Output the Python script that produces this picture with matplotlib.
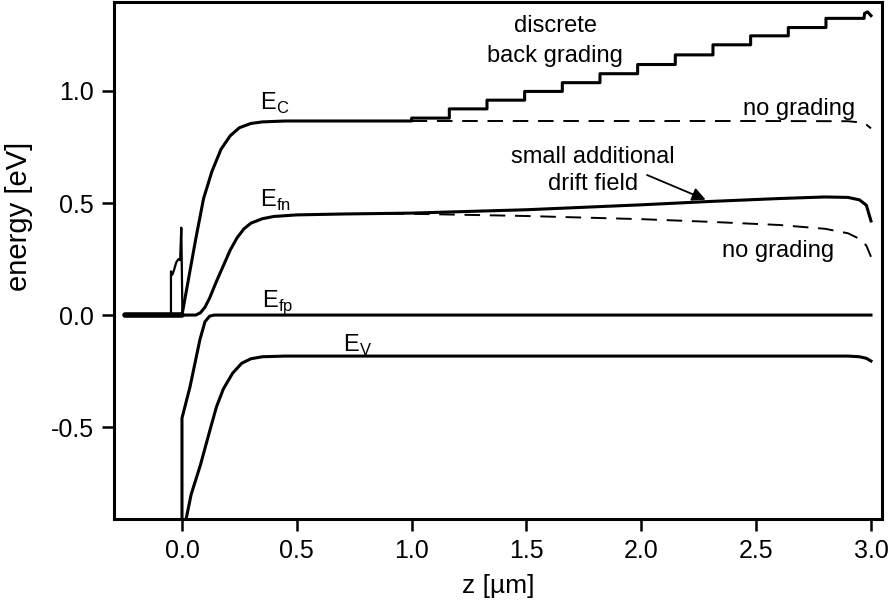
import matplotlib
matplotlib.use("Agg")
import matplotlib.pyplot as plt

plt.rcParams['font.family'] = ['Liberation Sans', 'DejaVu Sans']
plt.rcParams['mathtext.fontset'] = 'custom'
plt.rcParams['mathtext.rm'] = 'Liberation Sans'
plt.rcParams['axes.unicode_minus'] = False

# contact / window region near z = 0
window_z = [-0.25, -0.048, -0.048, -0.042, -0.035, -0.025, -0.015, -0.008, -0.003, 0.002, 0.01]
window_E = [0.0, 0.0, 0.195, 0.18, 0.2, 0.235, 0.25, 0.245, 0.39, 0.0, 0.0]

# conduction band, with discrete back grading
ec_z = [0.0, 0.03, 0.06, 0.094, 0.13, 0.17, 0.21, 0.25, 0.3, 0.35, 0.45, 1.0,
        1.0, 1.164, 1.164, 1.328, 1.328, 1.492, 1.492, 1.656, 1.656, 1.82, 1.82,
        1.984, 1.984, 2.148, 2.148, 2.312, 2.312, 2.476, 2.476, 2.64, 2.64,
        2.804, 2.804, 2.97, 2.972, 2.985, 3.0]
ec_E = [0.0, 0.17, 0.34, 0.52, 0.64, 0.74, 0.8, 0.836, 0.855, 0.862, 0.866, 0.866,
        0.879, 0.879, 0.92, 0.92, 0.959, 0.959, 0.998, 0.998, 1.037, 1.037, 1.077,
        1.077, 1.118, 1.118, 1.161, 1.161, 1.206, 1.206, 1.246, 1.246, 1.283,
        1.283, 1.324, 1.324, 1.346, 1.353, 1.336]

# conduction band without grading
ec0_z = [1.0, 1.5, 2.0, 2.5, 2.9, 2.95, 2.98, 3.0]
ec0_E = [0.866, 0.866, 0.866, 0.866, 0.865, 0.86, 0.85, 0.833]

# electron quasi-Fermi level, graded
efn_z = [0.0, 0.06, 0.08, 0.1, 0.12, 0.15, 0.18, 0.21, 0.24, 0.27, 0.3, 0.35, 0.4,
         0.5, 0.7, 1.0, 1.5, 2.0, 2.3, 2.6, 2.8, 2.9, 2.95, 2.98, 3.0]
efn_E = [0.0, 0.0, 0.01, 0.035, 0.075, 0.15, 0.22, 0.29, 0.345, 0.385, 0.41, 0.43, 0.44,
         0.447, 0.451, 0.455, 0.47, 0.492, 0.507, 0.52, 0.527, 0.525, 0.514, 0.49, 0.42]

# electron quasi-Fermi level without grading
efn0_z = [0.9, 1.0, 1.5, 2.0, 2.3, 2.6, 2.8, 2.9, 2.95, 2.98, 3.0]
efn0_E = [0.452, 0.452, 0.442, 0.428, 0.416, 0.402, 0.385, 0.365, 0.34, 0.31, 0.26]

# hole quasi-Fermi level
efp_z = [0.0, 0.0, 0.035, 0.078, 0.1, 0.12, 0.14, 3.0]
efp_E = [-0.95, -0.46, -0.32, -0.11, -0.03, -0.005, 0.0, 0.0]

# valence band
ev_z = [0.01, 0.04, 0.08, 0.12, 0.15, 0.18, 0.22, 0.26, 0.3, 0.35, 0.45, 2.9, 2.95, 2.98, 3.0]
ev_E = [-0.95, -0.8, -0.67, -0.52, -0.41, -0.33, -0.26, -0.215, -0.195, -0.186, -0.183,
        -0.183, -0.186, -0.193, -0.205]

fig = plt.figure(figsize=(8.96, 6.07), dpi=100)
ax = fig.add_axes([114 / 896, 1 - 519 / 607, 768 / 896, 517 / 607])

lw = 2.2
dash = (8, 5)
ax.plot(window_z, window_E, color='black', lw=1.6)
ax.plot([-0.25, 0.0], [0.0, 0.0], color='black', lw=4.0, solid_capstyle='round')
ax.plot(ec_z, ec_E, color='black', lw=lw)
ax.plot(ec0_z, ec0_E, color='black', lw=1.4, dashes=dash)
ax.plot(efn_z, efn_E, color='black', lw=lw)
ax.plot(efn0_z, efn0_E, color='black', lw=1.4, dashes=dash)
ax.plot(efp_z, efp_E, color='black', lw=lw)
ax.plot(ev_z, ev_E, color='black', lw=lw)

ax.set_xlim(-0.296, 3.048)
ax.set_ylim(-0.91, 1.397)
ax.set_xticks([0.0, 0.5, 1.0, 1.5, 2.0, 2.5, 3.0])
ax.set_xticklabels(['0.0', '0.5', '1.0', '1.5', '2.0', '2.5', '3.0'])
ax.set_yticks([-0.5, 0.0, 0.5, 1.0])
ax.set_yticklabels(['-0.5', '0.0', '0.5', '1.0'])
ax.tick_params(direction='out', length=8.5, width=1.8, labelsize=18, pad=6)
for sp in ax.spines.values():
    sp.set_linewidth(2.2)

ax.set_xlabel('z [µm]', fontsize=19, labelpad=8)
ax.set_ylabel('energy [eV]', fontsize=21, labelpad=8)
ax.yaxis.set_label_coords(-0.105, 0.585)

fs = 17
ax.text(0.34, 0.915, r'E$_{\rm C}$', fontsize=fs, va='baseline')
ax.text(0.34, 0.485, r'E$_{\rm fn}$', fontsize=fs, va='baseline')
ax.text(0.35, 0.037, r'E$_{\rm fp}$', fontsize=fs, va='baseline')
ax.text(0.70, -0.165, r'E$_{\rm V}$', fontsize=fs, va='baseline')
ax.text(1.625, 1.265, 'discrete', fontsize=17, ha='center', va='baseline')
ax.text(1.625, 1.131, 'back grading', fontsize=17, ha='center', va='baseline')
ax.text(2.685, 0.92, 'no grading', fontsize=17, ha='center', va='center')
ax.text(2.595, 0.286, 'no grading', fontsize=17, ha='center', va='center')
ax.text(1.79, 0.679, 'small additional', fontsize=17, ha='center', va='baseline')
ax.text(1.79, 0.558, 'drift field', fontsize=17, ha='center', va='baseline')
ax.annotate('', xy=(2.28, 0.515), xytext=(2.025, 0.625),
            arrowprops=dict(arrowstyle='-|>', color='black', lw=1.3,
                            shrinkA=0, shrinkB=0, mutation_scale=20))

fig.savefig('out.png', dpi=100)
